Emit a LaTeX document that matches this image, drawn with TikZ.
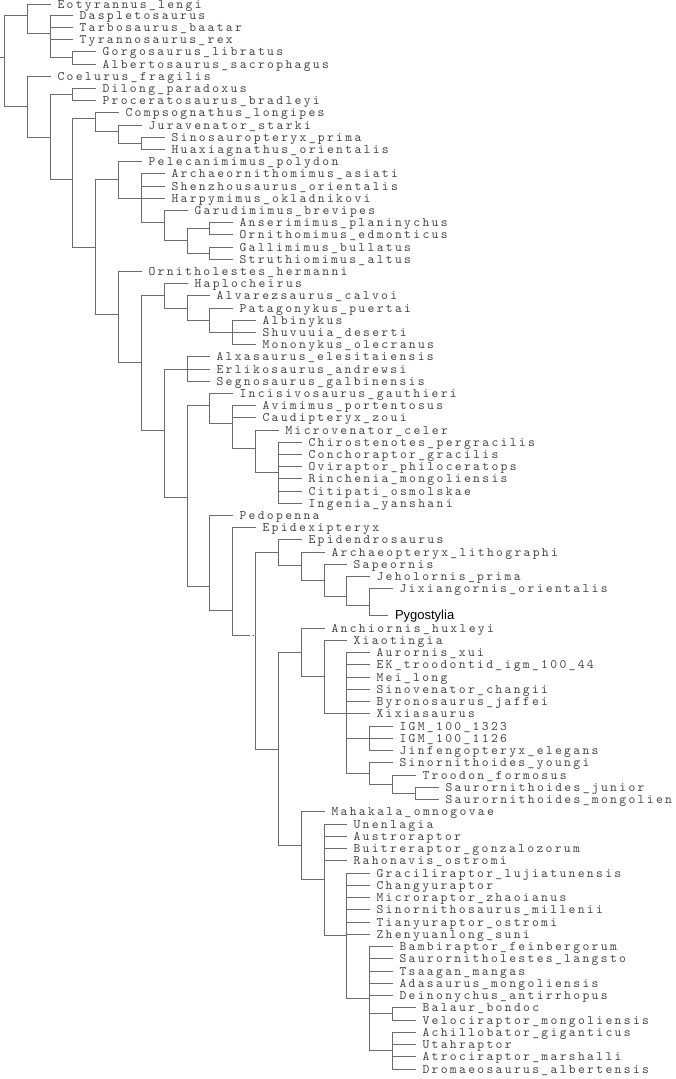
\documentclass[tikz,border=0pt]{standalone}
\usepackage{fontspec}
\newfontfamily\lblfont{lmmono10-regular.otf}[LetterSpace=17.9]
\newfontfamily\pygfont{Liberation Sans}
\definecolor{txtc}{RGB}{70,70,70}
\definecolor{linec}{RGB}{108,108,108}
\begin{document}
\begin{tikzpicture}[x=1pt,y=-1pt,
  tip/.style={anchor=west,inner xsep=7pt,inner ysep=0pt,outer sep=0pt,text height=10pt,text depth=2pt,
    font=\lblfont\fontsize{13pt}{13pt}\selectfont,text=txtc},
  pygtip/.style={anchor=west,inner xsep=7pt,inner ysep=0pt,outer sep=0pt,text height=10pt,text depth=2pt,
    font=\pygfont\fontsize{13pt}{13pt}\selectfont,text=black},
  br/.style={draw=linec,line width=1.45pt},
  dotmark/.style={circle,fill=linec,inner sep=0pt,minimum size=1.8pt}]
\useasboundingbox[fill=white] (0,0) rectangle (676,1079);
% internal nodes
\coordinate (root) at (4.5,57.5);
\coordinate (rootin) at (0,57.5);
\coordinate (A) at (27.5,15.5);
\coordinate (B) at (50.5,33.5);
\coordinate (B1) at (72.5,57.5);
\coordinate (C) at (27.5,106.5);
\coordinate (D) at (50.5,137.5);
\coordinate (E) at (72.5,94.5);
\coordinate (F) at (72.5,179.5);
\coordinate (G) at (95.5,118.5);
\coordinate (I) at (118.5,131.5);
\coordinate (J) at (141.5,143.5);
\coordinate (H) at (95.5,247.5);
\coordinate (K) at (118.5,179.5);
\coordinate (M) at (141.5,198.5);
\coordinate (N) at (164.5,222.5);
\coordinate (O) at (187.5,240.5);
\coordinate (P) at (209.5,228.5);
\coordinate (Q) at (209.5,253.5);
\coordinate (L) at (118.5,314.5);
\coordinate (R) at (141.5,362.5);
\coordinate (S) at (164.5,295.5);
\coordinate (U) at (187.5,308.5);
\coordinate (V) at (209.5,320.5);
\coordinate (W) at (232.5,332.5);
\coordinate (T) at (164.5,430.5);
\coordinate (X) at (187.5,369.5);
\coordinate (Y) at (187.5,497.5);
\coordinate (Z) at (209.5,405.5);
\coordinate (AB) at (232.5,423.5);
\coordinate (AC) at (255.5,448.5);
\coordinate (AD) at (278.5,472.5);
\coordinate (AA) at (209.5,586.5);
\coordinate (AE) at (232.5,610.5);
\coordinate (AF) at (255.5,635.5);
\coordinate (AFgap) at (250,635.5);
\coordinate (AG) at (278.5,552.5);
\coordinate (AI) at (301.5,565.5);
\coordinate (AJ) at (324.5,580.5);
\coordinate (AK) at (346.5,596.5);
\coordinate (AL) at (369.5,605.5);
\coordinate (AH) at (278.5,749.5);
\coordinate (AM) at (301.5,652.5);
\coordinate (AP) at (324.5,676.5);
\coordinate (AQ) at (346.5,713.5);
\coordinate (AR) at (369.5,738.5);
\coordinate (AS) at (369.5,773.5);
\coordinate (AT) at (392.5,784.5);
\coordinate (AU) at (415.5,793.5);
\coordinate (AN) at (301.5,845.5);
\coordinate (AY) at (324.5,879.5);
\coordinate (AZ) at (346.5,935.5);
\coordinate (BA) at (369.5,998.5);
\coordinate (BB) at (392.5,1013.5);
\coordinate (BC) at (392.5,1050.5);
\node[dotmark] (AFdot) at (253.2,635.5) {};
% leaves (upper)
\node[tip] (t0) at (50.5,4.5) {Eotyrannus\_lengi};
\node[tip] (t1) at (72.5,15.5) {Daspletosaurus};
\node[tip] (t2) at (72.5,27.5) {Tarbosaurus\_baatar};
\node[tip] (t3) at (72.5,39.5) {Tyrannosaurus\_rex};
\node[tip] (t4) at (95.5,51.5) {Gorgosaurus\_libratus};
\node[tip] (t5) at (95.5,64.5) {Albertosaurus\_sacrophagus};
\node[tip] (t6) at (50.5,76.5) {Coelurus\_fragilis};
\node[tip] (t7) at (95.5,88.5) {Dilong\_paradoxus};
\node[tip] (t8) at (95.5,100.5) {Proceratosaurus\_bradleyi};
\node[tip] (t9) at (118.5,112.5) {Compsognathus\_longipes};
\node[tip] (t10) at (141.5,125.5) {Juravenator\_starki};
\node[tip] (t11) at (164.5,137.5) {Sinosauropteryx\_prima};
\node[tip] (t12) at (164.5,149.5) {Huaxiagnathus\_orientalis};
\node[tip] (t13) at (141.5,161.5) {Pelecanimimus\_polydon};
\node[tip] (t14) at (164.5,173.5) {Archaeornithomimus\_asiati};
\node[tip] (t15) at (164.5,186.5) {Shenzhousaurus\_orientalis};
\node[tip] (t16) at (164.5,198.5) {Harpymimus\_okladnikovi};
\node[tip] (t17) at (187.5,210.5) {Garudimimus\_brevipes};
\node[tip] (t18) at (232.5,222.5) {Anserimimus\_planinychus};
\node[tip] (t19) at (232.5,234.5) {Ornithomimus\_edmonticus};
\node[tip] (t20) at (232.5,247.5) {Gallimimus\_bullatus};
\node[tip] (t21) at (232.5,259.5) {Struthiomimus\_altus};
\node[tip] (t22) at (141.5,271.5) {Ornitholestes\_hermanni};
\node[tip] (t23) at (187.5,283.5) {Haplocheirus};
\node[tip] (t24) at (209.5,295.5) {Alvarezsaurus\_calvoi};
\node[tip] (t25) at (232.5,308.5) {Patagonykus\_puertai};
\node[tip] (t26) at (255.5,320.5) {Albinykus};
\node[tip] (t27) at (255.5,332.5) {Shuvuuia\_deserti};
\node[tip] (t28) at (255.5,344.5) {Mononykus\_olecranus};
\node[tip] (t29) at (209.5,356.5) {Alxasaurus\_elesitaiensis};
\node[tip] (t30) at (209.5,369.5) {Erlikosaurus\_andrewsi};
\node[tip] (t31) at (209.5,381.5) {Segnosaurus\_galbinensis};
\node[tip] (t32) at (232.5,393.5) {Incisivosaurus\_gauthieri};
\node[tip] (t33) at (255.5,405.5) {Avimimus\_portentosus};
\node[tip] (t34) at (255.5,417.5) {Caudipteryx\_zoui};
\node[tip] (t35) at (278.5,430.5) {Microvenator\_celer};
\node[tip] (t36) at (301.5,442.5) {Chirostenotes\_pergracilis};
\node[tip] (t37) at (301.5,454.5) {Conchoraptor\_gracilis};
\node[tip] (t38) at (301.5,466.5) {Oviraptor\_philoceratops};
\node[tip] (t39) at (301.5,478.5) {Rinchenia\_mongoliensis};
\node[tip] (t40) at (301.5,491.5) {Citipati\_osmolskae};
\node[tip] (t41) at (301.5,503.5) {Ingenia\_yanshani};
\node[tip] (t42) at (232.5,515.5) {Pedopenna};
\node[tip] (t43) at (255.5,527.5) {Epidexipteryx};
\node[tip] (t44) at (301.5,539.5) {Epidendrosaurus};
\node[tip] (t45) at (324.5,552.5) {Archaeopteryx\_lithographi};
\node[tip] (t46) at (346.5,564.5) {Sapeornis};
\node[tip] (t47) at (369.5,576.5) {Jeholornis\_prima};
\node[tip] (t48) at (392.5,588.5) {Jixiangornis\_orientalis};
\node[pygtip] (pyg) at (388,615.5) {Pygostylia};
% leaves (lower)
\node[tip] (l0) at (324.5,628.5) {Anchiornis\_huxleyi};
\node[tip] (l1) at (346.5,640.5) {Xiaotingia};
\node[tip] (l2) at (369.5,652.5) {Aurornis\_xui};
\node[tip] (l3) at (369.5,664.5) {EK\_troodontid\_igm\_100\_44};
\node[tip] (l4) at (369.5,677.5) {Mei\_long};
\node[tip] (l5) at (369.5,689.5) {Sinovenator\_changii};
\node[tip] (l6) at (369.5,701.5) {Byronosaurus\_jaffei};
\node[tip] (l7) at (369.5,713.5) {Xixiasaurus};
\node[tip] (l8) at (392.5,726.5) {IGM\_100\_1323};
\node[tip] (l9) at (392.5,738.5) {IGM\_100\_1126};
\node[tip] (l10) at (392.5,750.5) {Jinfengopteryx\_elegans};
\node[tip] (l11) at (392.5,762.5) {Sinornithoides\_youngi};
\node[tip] (l12) at (415.5,775.5) {Troodon\_formosus};
\node[tip] (l13) at (438.5,787.5) {Saurornithoides\_junior};
\node[tip] (l14) at (438.5,799.5) {Saurornithoides\_mongolien};
\node[tip] (l15) at (324.5,811.5) {Mahakala\_omnogovae};
\node[tip] (l16) at (346.5,824.5) {Unenlagia};
\node[tip] (l17) at (346.5,836.5) {Austroraptor};
\node[tip] (l18) at (346.5,848.5) {Buitreraptor\_gonzalozorum};
\node[tip] (l19) at (346.5,860.5) {Rahonavis\_ostromi};
\node[tip] (l20) at (369.5,873.5) {Graciliraptor\_lujiatunensis};
\node[tip] (l21) at (369.5,885.5) {Changyuraptor};
\node[tip] (l22) at (369.5,897.5) {Microraptor\_zhaoianus};
\node[tip] (l23) at (369.5,909.5) {Sinornithosaurus\_millenii};
\node[tip] (l24) at (369.5,922.5) {Tianyuraptor\_ostromi};
\node[tip] (l25) at (369.5,934.5) {Zhenyuanlong\_suni};
\node[tip] (l26) at (392.5,946.5) {Bambiraptor\_feinbergorum};
\node[tip] (l27) at (392.5,958.5) {Saurornitholestes\_langsto};
\node[tip] (l28) at (392.5,971.5) {Tsaagan\_mangas};
\node[tip] (l29) at (392.5,983.5) {Adasaurus\_mongoliensis};
\node[tip] (l30) at (392.5,995.5) {Deinonychus\_antirrhopus};
\node[tip] (l31) at (415.5,1007.5) {Balaur\_bondoc};
\node[tip] (l32) at (415.5,1020.5) {Velociraptor\_mongoliensis};
\node[tip] (l33) at (415.5,1032.5) {Achillobator\_giganticus};
\node[tip] (l34) at (415.5,1044.5) {Utahraptor};
\node[tip] (l35) at (415.5,1056.5) {Atrociraptor\_marshalli};
\node[tip] (l36) at (415.5,1069.5) {Dromaeosaurus\_albertensis};
% connectors (one path per parent node)
\draw[br] (rootin) -- (root);
\draw[br] (root) |- (A) (root) |- (C);
\draw[br] (A) |- (t0.west) (A) |- (B);
\draw[br] (B) |- (t1.west) (B) |- (t2.west) (B) |- (t3.west) (B) |- (B1);
\draw[br] (B1) |- (t4.west) (B1) |- (t5.west);
\draw[br] (C) |- (t6.west) (C) |- (D);
\draw[br] (D) |- (E) (D) |- (F);
\draw[br] (E) |- (t7.west) (E) |- (t8.west);
\draw[br] (F) |- (G) (F) |- (H);
\draw[br] (G) |- (t9.west) (G) |- (I);
\draw[br] (I) |- (t10.west) (I) |- (J);
\draw[br] (J) |- (t11.west) (J) |- (t12.west);
\draw[br] (H) |- (K) (H) |- (L);
\draw[br] (K) |- (t13.west) (K) |- (M);
\draw[br] (M) |- (t14.west) (M) |- (t15.west) (M) |- (t16.west) (M) |- (N);
\draw[br] (N) |- (t17.west) (N) |- (O);
\draw[br] (O) |- (P) (O) |- (Q);
\draw[br] (P) |- (t18.west) (P) |- (t19.west);
\draw[br] (Q) |- (t20.west) (Q) |- (t21.west);
\draw[br] (L) |- (t22.west) (L) |- (R);
\draw[br] (R) |- (S) (R) |- (T);
\draw[br] (S) |- (t23.west) (S) |- (U);
\draw[br] (U) |- (t24.west) (U) |- (V);
\draw[br] (V) |- (t25.west) (V) |- (W);
\draw[br] (W) |- (t26.west) (W) |- (t27.west) (W) |- (t28.west);
\draw[br] (T) |- (X) (T) |- (Y);
\draw[br] (X) |- (t29.west) (X) |- (t30.west) (X) |- (t31.west);
\draw[br] (Y) |- (Z) (Y) |- (AA);
\draw[br] (Z) |- (t32.west) (Z) |- (AB);
\draw[br] (AB) |- (t33.west) (AB) |- (t34.west) (AB) |- (AC);
\draw[br] (AC) |- (t35.west) (AC) |- (AD);
\draw[br] (AD) |- (t36.west) (AD) |- (t37.west) (AD) |- (t38.west) (AD) |- (t39.west) (AD) |- (t40.west) (AD) |- (t41.west);
\draw[br] (AA) |- (t42.west) (AA) |- (AE);
\draw[br] (AE) |- (t43.west) (AE) |- (AFgap);
\draw[br] (AF) |- (AG) (AF) |- (AH);
\draw[br] (AG) |- (t44.west) (AG) |- (AI);
\draw[br] (AI) |- (t45.west) (AI) |- (AJ);
\draw[br] (AJ) |- (t46.west) (AJ) |- (AK);
\draw[br] (AK) |- (t47.west) (AK) |- (AL);
\draw[br] (AL) |- (t48.west) (AL) |- (pyg.west);
\draw[br] (AH) |- (AM) (AH) |- (AN);
\draw[br] (AM) |- (l0.west) (AM) |- (AP);
\draw[br] (AP) |- (l1.west) (AP) |- (AQ);
\draw[br] (AQ) |- (l2.west) (AQ) |- (l3.west) (AQ) |- (l4.west) (AQ) |- (l5.west) (AQ) |- (l6.west) (AQ) |- (l7.west) (AQ) |- (AR) (AQ) |- (AS);
\draw[br] (AR) |- (l8.west) (AR) |- (l9.west) (AR) |- (l10.west);
\draw[br] (AS) |- (l11.west) (AS) |- (AT);
\draw[br] (AT) |- (l12.west) (AT) |- (AU);
\draw[br] (AU) |- (l13.west) (AU) |- (l14.west);
\draw[br] (AN) |- (l15.west) (AN) |- (AY);
\draw[br] (AY) |- (l16.west) (AY) |- (l17.west) (AY) |- (l18.west) (AY) |- (l19.west) (AY) |- (AZ);
\draw[br] (AZ) |- (l20.west) (AZ) |- (l21.west) (AZ) |- (l22.west) (AZ) |- (l23.west) (AZ) |- (l24.west) (AZ) |- (l25.west) (AZ) |- (BA);
\draw[br] (BA) |- (l26.west) (BA) |- (l27.west) (BA) |- (l28.west) (BA) |- (l29.west) (BA) |- (l30.west) (BA) |- (BB) (BA) |- (BC);
\draw[br] (BB) |- (l31.west) (BB) |- (l32.west);
\draw[br] (BC) |- (l33.west) (BC) |- (l34.west) (BC) |- (l35.west) (BC) |- (l36.west);
\end{tikzpicture}
\end{document}
